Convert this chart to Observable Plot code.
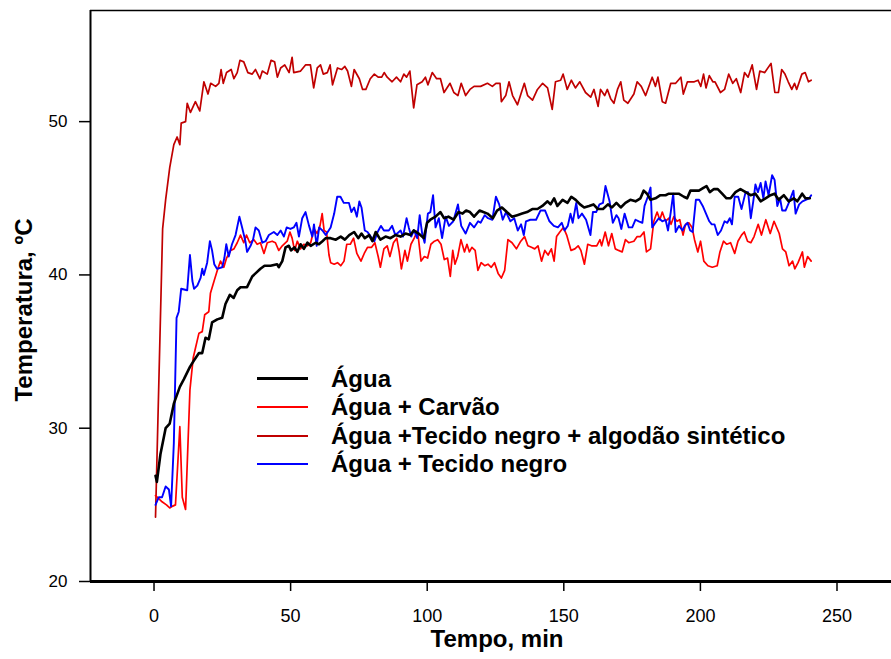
<!DOCTYPE html>
<html><head><meta charset="utf-8">
<script src="https://cdn.jsdelivr.net/npm/d3@7"></script>
<script src="https://cdn.jsdelivr.net/npm/@observablehq/plot@0.6"></script>
<style>
body{margin:0;background:#fff;font-family:"Liberation Sans",Arial,sans-serif;}
#wrap{position:relative;width:891px;height:659px;}
#legend{position:absolute;left:257px;top:364.5px;font-weight:bold;font-size:24px;color:#000;}
.row{display:flex;align-items:center;height:28.5px;white-space:nowrap;}
.sw{width:51px;margin-right:23px;}
</style></head><body><div id="wrap"><div id="legend"></div></div>
<script>
const xTicks=[0,50,100,150,200,250];
const yTicks=[20,30,40,50];
const xLabel="Tempo, min";
const yLabel="Temperatura, ºC";
const names=["Água","Água + Carvão","Água +Tecido negro + algodão sintético","Água + Tecido negro"];

const agua=[[0,26.9],[0.5,26.5],[1.8,28.3],[3.7,30.0],[5.2,30.3],[6.7,31.6],[8.9,32.7],[10.4,33.2],[12.6,34.0],[14,34.4],[15.9,34.9],[17.1,34.9],[18.3,35.9],[19.5,35.8],[20.7,36.9],[22.6,37.1],[24.4,37.2],[25.6,38.1],[27.2,38.7],[28.6,38.5],[29.9,39.0],[31.1,39.2],[33.5,39.2],[35.4,39.9],[36.6,40.1],[38.4,40.4],[39.9,40.6],[42.1,40.6],[44.5,40.7],[45.1,40.5],[46.4,40.9],[47.6,41.8],[48.8,41.9],[49.6,41.6],[50.9,41.8],[51.9,41.5],[53.1,42.0],[54.3,41.7],[55.6,42.1],[56.8,41.9],[58.6,42.1],[59.8,42.0],[61.1,42.2],[62.3,42.4],[64.1,42.4],[66,42.3],[67.8,42.5],[69.3,42.3],[70.9,42.6],[72.7,42.8],[74.2,42.4],[75.4,42.7],[76.6,42.4],[78.2,42.6],[79.4,42.2],[80.6,42.8],[82.3,42.3],[84.2,42.5],[86,42.4],[87.8,42.6],[89.7,42.5],[91.5,42.7],[93.3,42.6],[94.5,42.9],[96.3,42.7],[98.2,42.4],[99.4,43.4],[100.6,43.6],[102.5,43.8],[104.3,44.1],[105.6,43.7],[107.2,43.8],[109.1,43.6],[110.9,44.1],[112.4,44.0],[113.7,44.2],[115.1,44.1],[116.6,43.8],[118.6,44.2],[120,44.1],[121.5,44.0],[123.5,43.7],[125,44.2],[126.8,44.4],[128.6,44.1],[130.5,43.8],[132.4,43.9],[134.2,44.0],[136,44.1],[137.9,44.3],[139.8,44.3],[141.6,44.5],[143.5,44.8],[144.6,44.6],[145.9,45.0],[147.1,44.5],[149,44.9],[150.8,44.7],[152.2,45.1],[153.8,44.9],[155.4,44.6],[156.9,44.4],[158.7,44.5],[160.3,44.6],[161.9,44.3],[163.8,44.3],[165.6,44.6],[167.1,44.4],[168.7,44.7],[170.3,44.4],[172,44.7],[173.8,44.9],[175.7,44.8],[177.5,45.0],[178.7,45.5],[179.9,45.3],[181.2,44.9],[183,45.0],[184.8,45.2],[186.7,45.2],[187.9,45.3],[189.7,45.3],[191.5,45.3],[193.4,45.1],[194.6,45.0],[195.8,45.5],[197.3,45.5],[198.9,45.5],[200.7,45.7],[201.7,45.8],[202.9,45.4],[204.4,45.6],[205.8,45.6],[207.4,45.3],[209,45.0],[210.5,45.0],[212.3,45.4],[214.1,45.6],[216,45.4],[217.8,45.2],[219.6,45.3],[221.5,44.8],[223.3,45.0],[225.1,45.2],[226.6,45.3],[228.1,44.9],[230,45.2],[231.8,44.8],[233.6,45.0],[234.9,44.8],[236.7,45.3],[237.9,45.0],[239.5,45.0]];

const carvao=[[0,25.6],[1.2,25.4],[2.4,25.2],[4,25.0],[5.2,24.8],[6.1,24.9],[7.3,25.0],[8.9,30.1],[9.8,25.5],[11,24.7],[12.6,32.5],[13.8,34.6],[15.9,36.2],[17.1,36.3],[18,37.4],[19.5,37.6],[20.1,38.8],[21.6,39.7],[22.8,40.4],[23.8,40.9],[25,40.5],[26,41.1],[27.5,41.6],[28.7,41.7],[29.9,42.1],[31.1,42.6],[32.3,42.1],[33.3,42.6],[34.5,42.1],[36,42.3],[37.2,42.0],[38.4,42.1],[39.7,41.4],[40.9,42.1],[42.7,42.2],[43.9,42.1],[45.1,41.6],[46.4,41.9],[48.2,42.2],[49.2,42.8],[50,42.4],[50.9,41.6],[51.9,42.2],[53.1,41.7],[54.3,42.0],[55.6,41.9],[56.8,42.1],[58,43.0],[59.2,42.7],[60.2,43.2],[61,44.0],[61.7,42.9],[62.6,42.8],[63.5,41.3],[64.1,40.8],[65.4,40.7],[66.6,40.8],[67.8,40.6],[69,40.9],[70,42.0],[71.3,42.0],[72.5,42.4],[73.7,41.4],[75.2,40.9],[76.4,41.4],[77.6,41.8],[79.1,41.8],[80.3,42.1],[81.5,41.2],[82.3,40.5],[83.6,41.7],[84.8,41.9],[85.8,41.2],[87.1,42.1],[88.3,42.4],[89.2,41.5],[90,40.4],[91.3,41.6],[92.2,40.9],[93.5,42.0],[94.7,42.4],[95.9,42.9],[97.2,40.9],[98.4,41.2],[99.6,41.1],[100.8,42.0],[102.1,42.2],[103.3,42.3],[104.5,42.0],[105.7,41.0],[106.9,41.1],[107.9,39.9],[108.8,41.6],[109.6,40.7],[110.6,41.2],[111.8,42.3],[113.1,41.5],[114,42.0],[114.9,41.5],[115.8,41.8],[117,41.6],[118,40.3],[119.2,40.8],[120.5,40.6],[121.7,40.7],[122.9,40.5],[124.1,40.8],[125.4,40.1],[126.6,39.8],[127.8,40.3],[129,42.3],[130.5,42.1],[132.1,41.7],[133.7,42.2],[135.1,42.5],[136.3,41.9],[137.6,41.8],[138.8,41.7],[140,41.9],[141.3,40.9],[142.5,41.6],[143.7,41.3],[144.9,41.7],[145.9,40.9],[146.8,42.5],[148,42.8],[149.3,43.1],[150.5,42.6],[152.1,41.6],[153.5,41.7],[154.7,41.9],[155.7,41.6],[157,40.7],[158.2,42.0],[159.6,41.9],[161.5,41.9],[162.7,42.3],[163.3,41.9],[164.6,42.8],[165.8,41.9],[167,42.7],[168.3,41.7],[169.5,41.6],[170.8,41.5],[172,42.3],[173.2,42.1],[175.1,42.2],[176.3,42.5],[177.5,42.5],[178.8,42.8],[179.7,41.5],[181.2,41.7],[182.4,43.5],[183.6,44.1],[184.6,43.6],[185.5,44.1],[186.7,43.5],[187.9,43.7],[188.7,43.3],[189.7,43.8],[190.9,43.5],[191.9,43.6],[193.1,42.6],[194,43.3],[195.2,43.4],[196.4,43.1],[197.3,42.3],[198.5,41.5],[199.5,42.2],[200.7,40.9],[202.2,40.6],[203.8,40.5],[205.6,40.6],[206.6,41.5],[207.9,42.2],[209.1,42.0],[210.5,42.1],[212,41.4],[213.2,42.2],[214.5,42.6],[215.5,42.8],[216.7,42.2],[217.9,42.1],[219.1,42.5],[220.6,43.3],[221.8,42.6],[223.4,43.6],[225,42.7],[226.4,43.5],[228.3,42.7],[229.5,41.7],[230.7,41.5],[231.9,40.6],[233.2,40.9],[234,40.4],[235.2,40.8],[236.8,41.5],[237.5,40.5],[238.7,41.2],[240,40.9]];

const tecidoAlgodao=[[0,24.2],[2.6,43.0],[3.7,44.9],[5.2,47.0],[6.7,48.5],[7.9,49.0],[8.9,48.5],[9.4,49.9],[11,50],[11.6,51.2],[12.8,50.6],[14.6,51.3],[16.2,50.7],[17.7,52.6],[19.2,51.8],[20.2,52.5],[22,52.3],[23.2,52.5],[24,53.4],[24.8,52.5],[26,53.2],[27.7,53.4],[28.7,52.8],[29.9,53.2],[30.9,54.0],[32.3,53.9],[33.8,53.2],[35.4,53.1],[36.6,53.4],[38.2,52.8],[39.1,53.3],[40.9,53.1],[42.3,54.0],[43.6,53.9],[44.6,52.9],[45.8,53.5],[47.3,53.7],[48.9,53.2],[50,54.2],[50.6,53.2],[53.1,53.3],[54.9,53.7],[56.7,53.7],[57.9,52.2],[59.2,53.5],[60.4,53.7],[61.4,53.1],[62.9,53.2],[63.9,53.7],[64.8,52.4],[66.6,53.5],[68.1,53.4],[69.3,53.6],[70.3,53.3],[71.7,52.3],[72.7,53.4],[74.6,52.8],[75.8,52.1],[77,52.1],[78.6,52.8],[80.1,53.1],[81.5,52.9],[82.8,52.9],[83.7,53.2],[84.8,52.9],[86.6,52.6],[88.2,52.9],[89.7,52.6],[90.9,53.1],[91.9,52.9],[93.1,53.3],[94.5,50.9],[95.7,52.4],[97.6,52.6],[98.8,52.9],[99.7,52.4],[101.3,53.2],[102.9,52.8],[104.3,52.8],[105.6,51.9],[107.8,52.5],[109.2,51.9],[110.7,51.7],[111.9,52.5],[113.5,51.7],[115.1,52.1],[116.6,52.3],[119,52.3],[121.5,52.5],[123.3,52.3],[124.6,52.5],[126.1,52.5],[126.6,51.3],[128.2,51.7],[129.4,52.6],[130.7,51.7],[132.5,51.1],[135,52.5],[136.2,51.7],[138,51.4],[139.8,52.1],[141.7,52.5],[143.5,52.2],[145.2,50.8],[146.4,52.6],[148.3,52.7],[149.2,53.1],[150.7,52.1],[152.2,52.7],[153.7,52.2],[155.3,52.6],[157.4,51.9],[159.3,51.6],[160.5,52.1],[162,51.0],[162.9,52.1],[164.4,51.7],[165.4,52.1],[166.6,51.5],[167.8,51.2],[169.1,52.1],[170.3,52.6],[171.4,51.4],[172.9,51.2],[175.1,51.8],[176.3,52.6],[177.8,52.3],[179.4,51.7],[181.2,52.6],[181.8,52.9],[183,52.3],[183.9,52.9],[185.5,51.3],[186.7,51.2],[188.6,52.5],[190.4,52.5],[192.3,52.9],[193.2,51.8],[194.7,52.6],[197.2,52.6],[198.6,52.7],[199.6,52.3],[200.6,53.1],[201.5,52.2],[202.7,53.0],[204,52.6],[204.8,52.6],[206.8,51.9],[208.3,52.1],[209.8,53.1],[211.3,52.5],[212.6,52.8],[214.2,51.9],[215.6,53.2],[216.9,52.9],[218.4,53.7],[220,52.1],[221.2,53.3],[223,53.2],[225.3,53.8],[226.7,51.9],[228,51.9],[229.2,53.4],[230.4,53.1],[231.6,52.6],[232.9,52.1],[233.9,52.5],[234.7,52.1],[236.6,53.1],[237.8,53.2],[239,52.6],[240,52.7]];

const tecido=[[0,25.0],[1.2,25.5],[2.4,25.5],[3.7,26.2],[4.9,26.0],[5.7,24.9],[6.7,29.0],[7.7,37.2],[8.5,37.6],[9.4,39.1],[11.6,39.0],[12.6,41.3],[13.5,39.6],[14.1,39.1],[15.3,39.3],[16.5,39.8],[17.1,40.4],[17.7,40.0],[18.9,40.8],[19.9,42.2],[20.7,41.6],[21.5,40.7],[22.5,40.4],[24.4,40.5],[25.2,41.1],[25.9,42.0],[26.8,41.2],[28,42.0],[29.3,42.6],[30.7,43.8],[31.7,43.1],[32.9,42.2],[33.5,41.5],[34.8,41.9],[35.7,42.3],[36.6,43.1],[37.8,42.9],[39.1,42.1],[40.3,42.2],[41.5,42.6],[43.3,42.8],[44.6,42.6],[45.8,42.9],[47,42.5],[48,43.1],[49.4,43.0],[50.6,43.1],[51.6,43.4],[52.5,42.5],[53.7,43.7],[54.9,44.1],[56.2,43.2],[57.4,42.5],[58,43.3],[59,41.9],[59.9,43.1],[61.1,42.9],[62.3,42.6],[64.1,43.1],[65.4,44.0],[66.5,45.1],[67.7,45.1],[68.9,44.7],[70.8,44.7],[71.7,44.1],[72.7,44.4],[73.7,43.8],[74.6,44.8],[75.4,44.4],[76.6,42.9],[77.6,42.8],[78.8,42.5],[80.1,42.2],[81.3,42.8],[82.5,43.2],[83.6,42.9],[85.4,42.9],[86.6,43.2],[87.8,42.6],[89.7,42.9],[90.6,42.5],[91.9,43.7],[92.7,43.1],[93.6,42.5],[94.6,42.9],[95.8,42.4],[96.7,43.9],[97.6,42.7],[98.5,42.1],[99.7,44.0],[100.6,44.1],[101.6,45.2],[102.5,43.1],[103.7,43.7],[104.9,42.4],[106.2,43.8],[107.4,43.2],[109,43.5],[110.7,44.6],[111.9,43.2],[113.5,42.7],[115.1,43.4],[116.6,43.1],[118.1,43.5],[119,43.4],[120.5,43.9],[121.7,43.7],[123.3,43.6],[124.6,45.1],[125.8,44.6],[127.1,43.6],[128.3,44.1],[129.9,43.5],[131.3,43.7],[132.6,42.9],[133.8,43.3],[134.8,42.6],[135.6,43.5],[137.2,43.6],[139.3,43.6],[140.9,44.2],[142.6,44.2],[144.2,43.5],[145.8,43.2],[147.3,43.1],[148.7,43.4],[149.7,42.9],[150.9,43.2],[151.9,44.0],[152.7,43.4],[154,44.7],[154.8,43.7],[156.1,44.0],[157.6,43.6],[159.2,42.6],[160.1,44.1],[161.3,44.1],[162.5,44.6],[163.8,44.7],[164.7,45.8],[166.2,44.8],[167.4,43.4],[168.7,43.9],[169.5,43.7],[170.5,43.0],[171.7,44.0],[173.2,43.1],[174.5,43.1],[175.7,43.6],[176.9,43.5],[178.2,43.4],[179,44.5],[180.2,45.1],[181.2,45.7],[181.8,43.1],[183,43.4],[184.2,43.7],[185.5,43.5],[186.7,43.6],[187.6,42.9],[188.6,44.1],[189.5,45.3],[190.4,42.8],[191.6,43.2],[192.9,42.9],[193.7,43.2],[194.7,43.4],[195.7,42.9],[196.6,42.8],[197.8,44.9],[199,44.9],[200.3,44.5],[201.5,44.0],[202.7,43.5],[203.6,43.3],[204.6,43.3],[205.8,42.6],[207,42.9],[208.3,43.5],[209.3,43.4],[210.2,43.7],[211,43.3],[212,45.1],[213.3,45.1],[214.5,44.3],[216,45.4],[216.9,45.4],[217.9,43.7],[218.8,44.8],[219.6,45.9],[220.5,45.4],[221.5,46.0],[222.5,45.0],[223.3,46.1],[224.4,45.2],[225.7,46.5],[226.6,46.2],[227.6,44.5],[228.6,45.0],[229.4,44.2],[230.6,44.2],[231.8,44.7],[233.5,45.5],[234.3,44.0],[235.6,44.6],[236.8,44.8],[238,44.9],[239.3,45.0],[240,45.2]];

const colors=["#000000","#ff0000","#c00000","#0000ff"];
const widths=[2.6,1.7,1.7,1.9];
const seriesData=[agua,carvao,tecidoAlgodao,tecido];

const xDomain=[-23.8,269.4];
const yDomain=[20,57.25];

const drawOrder=[2,1,3,0];
const lineMarks=drawOrder.map(i=>Plot.line(seriesData[i],{x:d=>d[0],y:d=>d[1],stroke:colors[i],strokeWidth:widths[i],strokeLinejoin:"round"}));

const plot=Plot.plot({
  width:891,height:659,
  marginLeft:90,marginRight:0,marginTop:10,marginBottom:78,
  style:{fontFamily:"'Liberation Sans', Arial, sans-serif",fontSize:"16px",color:"#000",background:"#fff",overflow:"visible"},
  x:{domain:xDomain},
  y:{domain:yDomain},
  marks:[
    Plot.axisX({ticks:xTicks,tickSize:10,tickPadding:18,fontSize:18,label:null,strokeWidth:1.5,dx:-1.5}),
    Plot.axisY({ticks:yTicks,tickSize:11,tickPadding:12,fontSize:17,label:null,strokeWidth:1.5}),
    ...lineMarks,
    Plot.ruleY([yDomain[1]],{stroke:"#000",strokeWidth:1.5}),
    Plot.ruleX([xDomain[0]],{stroke:"#000",strokeWidth:2}),
    Plot.ruleY([yDomain[0]],{stroke:"#000",strokeWidth:3}),
    Plot.text([yLabel],{text:d=>d,frameAnchor:"left",textAnchor:"middle",dx:-66,dy:14,rotate:-90,fontWeight:"bold",fontSize:24}),
    Plot.text([xLabel],{text:d=>d,frameAnchor:"bottom",dx:6,dy:65,fontWeight:"bold",fontSize:24})
  ]
});
const wrap=document.getElementById("wrap");
wrap.insertBefore(plot,wrap.firstChild);

const legend=document.getElementById("legend");
names.forEach((n,i)=>{
  const row=document.createElement("div");row.className="row";
  const sw=document.createElement("div");sw.className="sw";
  sw.style.borderTop=`${i===0?3:2}px solid ${colors[i]}`;
  const lab=document.createElement("span");lab.textContent=n;
  row.appendChild(sw);row.appendChild(lab);legend.appendChild(row);
});
</script>
</body></html>
